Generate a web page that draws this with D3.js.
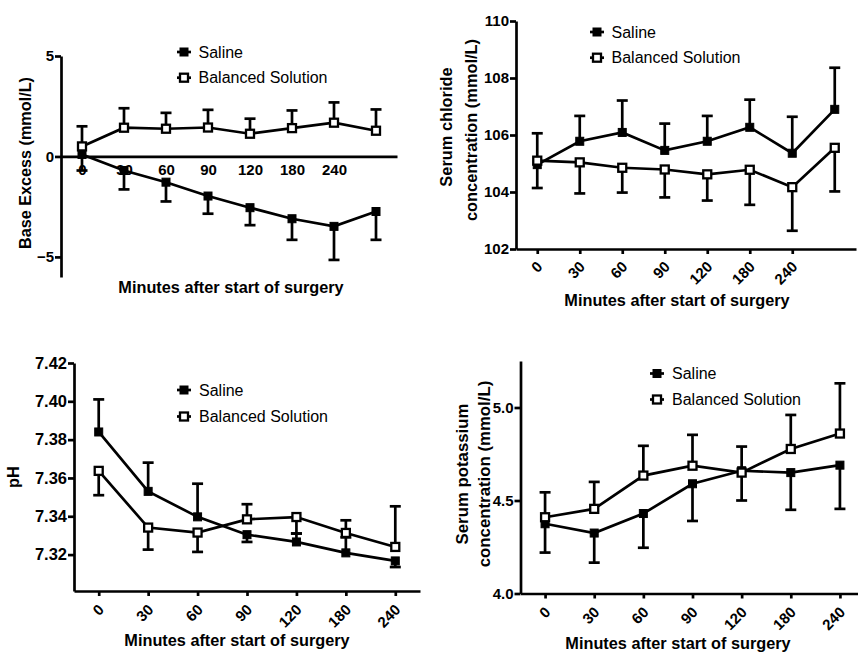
<!DOCTYPE html>
<html>
<head>
<meta charset="utf-8">
<script src="https://cdn.jsdelivr.net/npm/d3@7"></script>
<style>
  html, body { margin: 0; padding: 0; background: #fff; }
  svg { display: block; }
  text { font-family: "Liberation Sans", Arial, Helvetica, sans-serif; fill: #000; }
</style>
</head>
<body>
<svg id="chart" width="858" height="657"></svg>
<script>
// ---------------- DATA ----------------
const timeLabels = ["0", "30", "60", "90", "120", "180", "240"];
const timeLabelsExtra = ["0", "30", "60", "90", "120", "180", "240", ""]; // 8th, unlabelled time point
const seriesNames = ["Saline", "Balanced Solution"];

// Base excess (mmol/L)
const beTicks = [-5, 0, 5];
const beSaline = [0.1, -0.7, -1.28, -1.97, -2.55, -3.1, -3.48, -2.74];
const beSalineErr = [-0.7, -1.64, -2.24, -2.85, -3.42, -4.15, -5.15, -4.15];
const beBalanced = [0.5, 1.43, 1.38, 1.44, 1.13, 1.41, 1.68, 1.28];
const beBalancedErr = [1.5, 2.4, 2.17, 2.32, 1.88, 2.29, 2.69, 2.34];

// Serum chloride (mmol/L)
const clTicks = [102, 104, 106, 108, 110];
const clSaline = [104.96, 105.78, 106.09, 105.46, 105.78, 106.27, 105.36, 106.9];
const clSalineErr = [106.06, 106.67, 107.21, 106.4, 106.67, 107.24, 106.64, 108.36];
const clBalanced = [105.1, 105.04, 104.85, 104.79, 104.62, 104.78, 104.17, 105.55];
const clBalancedErr = [104.14, 103.95, 103.98, 103.81, 103.7, 103.55, 102.64, 104.02];

// pH
const phTicks = [7.32, 7.34, 7.36, 7.38, 7.40, 7.42];
const phSaline = [7.384, 7.353, 7.3397, 7.3304, 7.3266, 7.3209, 7.3167];
const phSalineErr = [7.401, 7.368, 7.357, 7.3266, 7.331, 7.329, 7.3135];
const phBalanced = [7.3637, 7.3341, 7.3315, 7.3384, 7.3396, 7.3313, 7.324];
const phBalancedErr = [7.351, 7.3226, 7.3214, 7.3463, 7.331, 7.3379, 7.3452];

// Serum potassium (mmol/L)
const kTicks = [4.0, 4.5, 5.0];
const kSaline = [4.375, 4.325, 4.43, 4.59, 4.66, 4.65, 4.69];
const kSalineErr = [4.22, 4.166, 4.246, 4.39, 4.5, 4.45, 4.455];
const kBalanced = [4.41, 4.455, 4.634, 4.687, 4.65, 4.777, 4.86];
const kBalancedErr = [4.544, 4.6, 4.794, 4.853, 4.79, 4.96, 5.13];

const xTitle = "Minutes after start of surgery";

// ---------------- DRAWING ----------------
const svg = d3.select("#chart");
const STROKE = 2.7;

function drawPanel(cfg) {
  const g = svg.append("g");
  const x = d3.scalePoint().domain(cfg.cats).range(cfg.xRange).padding(0.5);
  const y = d3.scaleLinear().domain(cfg.yDomain).range(cfg.yRange);

  // Y axis
  const ya = g.append("g")
    .attr("transform", `translate(${cfg.xRange[0]},0)`)
    .call(d3.axisLeft(y).tickValues(cfg.yTicks).tickFormat(cfg.yFmt)
      .tickSize(6).tickSizeOuter(0).tickPadding(1));
  ya.selectAll("path, line").attr("stroke", "#000").attr("stroke-width", STROKE);
  ya.selectAll("text").attr("font-size", cfg.yTickSize || 15).attr("font-weight", "bold")
    .style("font-family", "'Liberation Sans', Arial, sans-serif");

  // X axis
  const xAxisY = cfg.xAxisAtZero ? y(0) : cfg.yRange[0];
  const xa = g.append("g")
    .attr("transform", `translate(0,${xAxisY})`)
    .call(d3.axisBottom(x).tickValues(timeLabels)
      .tickSize(cfg.rotate ? 5 : 0).tickSizeOuter(0).tickPadding(8));
  xa.selectAll("path, line").attr("stroke", "#000").attr("stroke-width", STROKE);
  xa.selectAll("text").attr("font-size", 15).attr("font-weight", "bold")
    .style("font-family", "'Liberation Sans', Arial, sans-serif");
  if (cfg.rotate) {
    xa.selectAll("text")
      .attr("x", 0).attr("y", 0).attr("dy", "0.35em")
      .attr("text-anchor", "end")
      .attr("transform", `translate(${cfg.rotOff[0]},${cfg.rotOff[1]}) rotate(-45)`);
  }

  const series = [
    { vals: cfg.saline, err: cfg.salineErr, filled: true },
    { vals: cfg.balanced, err: cfg.balancedErr, filled: false }
  ];

  const line = d3.line().x((d, i) => x(cfg.cats[i])).y(d => y(d));

  series.forEach(s => {
    g.append("path").datum(s.vals).attr("d", line)
      .attr("fill", "none").attr("stroke", "#000").attr("stroke-width", STROKE);
  });

  series.forEach(s => {
    const eb = g.append("g");
    s.vals.forEach((v, i) => {
      const cx = x(cfg.cats[i]);
      eb.append("line").attr("x1", cx).attr("x2", cx).attr("y1", y(v)).attr("y2", y(s.err[i]))
        .attr("stroke", "#000").attr("stroke-width", STROKE);
      eb.append("line").attr("x1", cx - 5.5).attr("x2", cx + 5.5).attr("y1", y(s.err[i])).attr("y2", y(s.err[i]))
        .attr("stroke", "#000").attr("stroke-width", STROKE);
    });
  });

  series.forEach(s => {
    g.append("g").selectAll("rect").data(s.vals).join("rect")
      .attr("x", (d, i) => x(cfg.cats[i]) - (s.filled ? 4 : 4))
      .attr("y", d => y(d) - (s.filled ? 4 : 4))
      .attr("width", 8).attr("height", 8)
      .attr("fill", s.filled ? "#000" : "#fff")
      .attr("stroke", "#000").attr("stroke-width", s.filled ? 1 : 2.3);
  });

  // Legend
  const lg = g.append("g");
  seriesNames.forEach((name, k) => {
    const ly = cfg.legend[1] + k * cfg.legendGap;
    const lx = cfg.legend[0];
    lg.append("line").attr("x1", lx - 7).attr("x2", lx + 7).attr("y1", ly).attr("y2", ly)
      .attr("stroke", "#000").attr("stroke-width", STROKE);
    lg.append("rect")
      .attr("x", lx - 4).attr("y", ly - 4)
      .attr("width", 8).attr("height", 8)
      .attr("fill", k === 0 ? "#000" : "#fff").attr("stroke", "#000")
      .attr("stroke-width", k === 0 ? 1 : 2.3);
    lg.append("text").attr("x", lx + cfg.legendText).attr("y", ly).attr("dy", "0.35em")
      .attr("font-size", 16).text(name);
  });

  // X title
  g.append("text").attr("x", cfg.xTitle[0]).attr("y", cfg.xTitle[1])
    .attr("text-anchor", "middle").attr("font-size", 16.3).attr("font-weight", "bold")
    .text(xTitle);

  // Y title (one or two lines)
  cfg.yTitle.forEach((t, k) => {
    g.append("text")
      .attr("transform", `translate(${cfg.yTitlePos[k][0]},${cfg.yTitlePos[k][1]}) rotate(-90)`)
      .attr("text-anchor", "middle").attr("dy", "0.35em")
      .attr("font-size", cfg.yTitleSize).attr("font-weight", "bold")
      .text(t);
  });
}

drawPanel({
  cats: timeLabelsExtra, xRange: [61, 397], yDomain: [-6, 5], yRange: [277, 56],
  yTicks: beTicks, yFmt: d3.format("d"), xAxisAtZero: true, rotate: false,
  saline: beSaline, salineErr: beSalineErr, balanced: beBalanced, balancedErr: beBalancedErr,
  legend: [184, 52], legendGap: 25.7, legendText: 14.5,
  xTitle: [231, 293], yTitle: ["Base Excess (mmol/L)"], yTitlePos: [[25, 163]], yTitleSize: 16.2
});

drawPanel({
  cats: timeLabelsExtra, xRange: [516, 856], yDomain: [102, 110], yRange: [249, 21],
  yTicks: clTicks, yFmt: d3.format("d"), xAxisAtZero: false, rotate: true, rotOff: [2, 15],
  saline: clSaline, salineErr: clSalineErr, balanced: clBalanced, balancedErr: clBalancedErr,
  legend: [597, 32], legendGap: 25.7, legendText: 14.5,
  xTitle: [677, 306], yTitle: ["Serum chloride", "concentration (mmol/L)"],
  yTitlePos: [[446, 127], [471, 130]], yTitleSize: 16.4
});

drawPanel({
  cats: timeLabels, xRange: [74, 420], yDomain: [7.301, 7.42], yRange: [591, 363],
  yTicks: phTicks, yFmt: d3.format(".2f"), yTickSize: 16.5, xAxisAtZero: false, rotate: true, rotOff: [2, 16],
  saline: phSaline, salineErr: phSalineErr, balanced: phBalanced, balancedErr: phBalancedErr,
  legend: [184, 390], legendGap: 26.5, legendText: 15,
  xTitle: [237, 646], yTitle: ["pH"], yTitlePos: [[13, 477]], yTitleSize: 16.4
});

drawPanel({
  cats: timeLabels, xRange: [520.5, 864.5], yDomain: [4.0, 5.25], yRange: [593.5, 361],
  yTicks: kTicks, yFmt: d3.format(".1f"), xAxisAtZero: false, rotate: true, rotOff: [2, 16],
  saline: kSaline, salineErr: kSalineErr, balanced: kBalanced, balancedErr: kBalancedErr,
  legend: [657, 373.5], legendGap: 26, legendText: 15,
  xTitle: [678, 649], yTitle: ["Serum potassium", "concentration (mmol/L)"],
  yTitlePos: [[462, 474], [484, 474]], yTitleSize: 16.8
});
</script>
</body>
</html>
